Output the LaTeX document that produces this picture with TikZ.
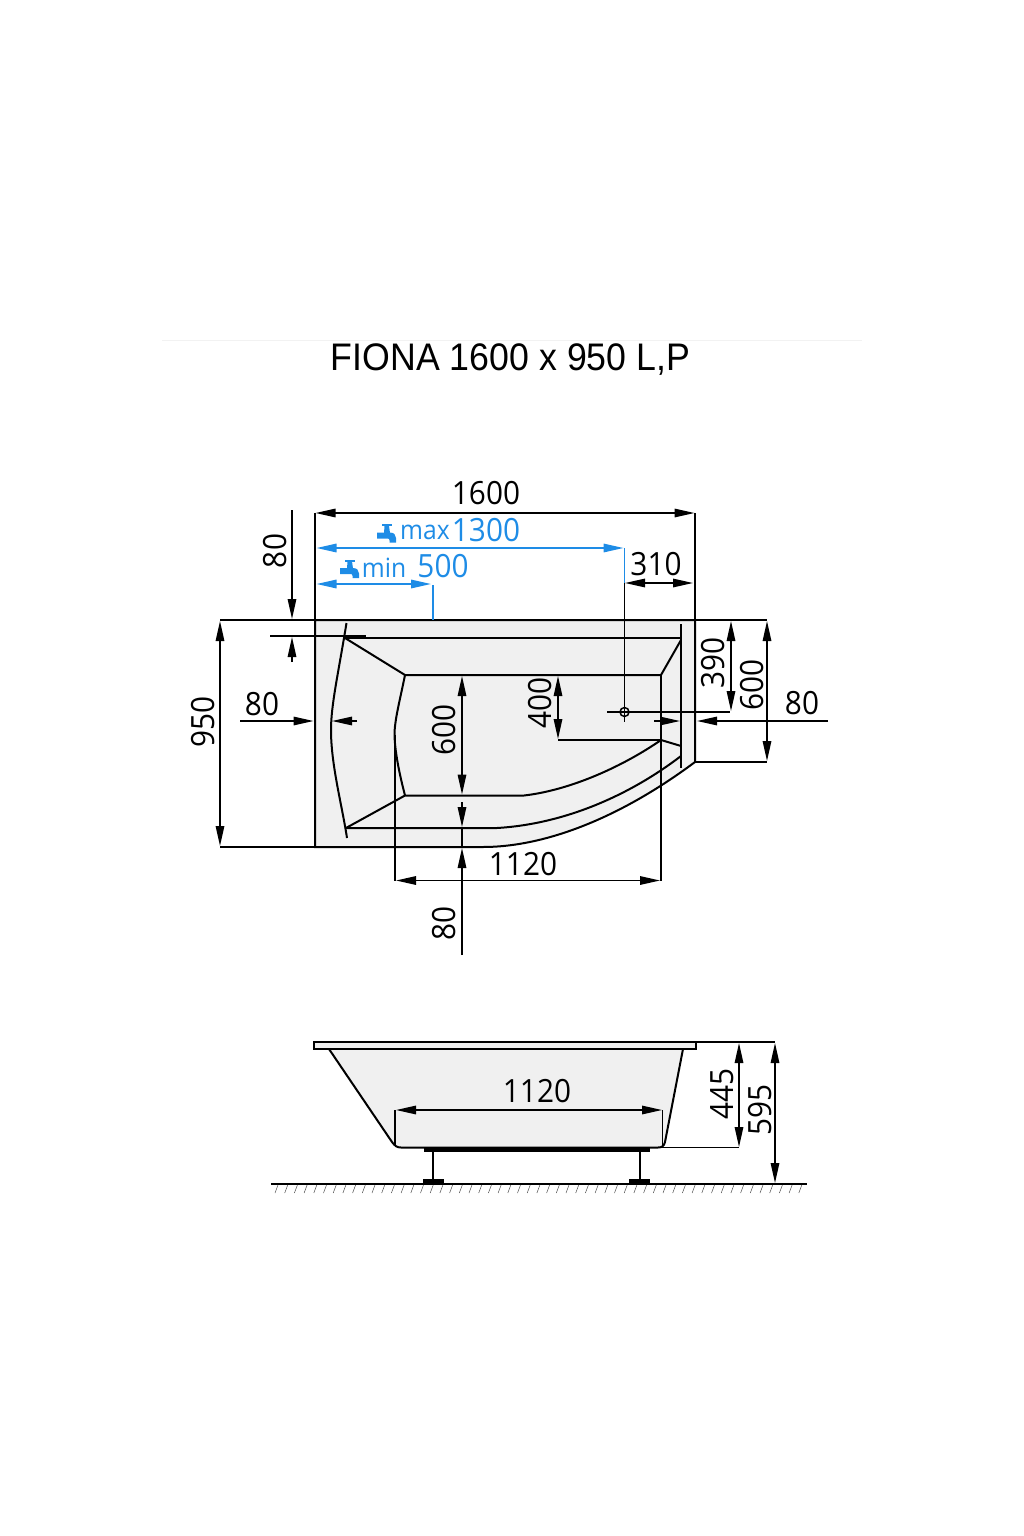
\documentclass[tikz,border=0pt]{standalone}
\usepackage{fontspec}
\setmainfont{Open Sans}
\newfontfamily\dimfont[FakeStretch=0.93]{Open Sans}
\newfontfamily\titlefont[FakeStretch=0.93]{Liberation Sans}
\usetikzlibrary{arrows.meta, calc}
\definecolor{tubgray}{HTML}{F0F0F0}
\definecolor{tapblue}{HTML}{1E8CE6}
\begin{document}
\begin{tikzpicture}[x=1pt,y=-1pt]
      \tikzset{outline/.style={line width=2pt, black},
        thinline/.style={line width=1.5pt, black},
        dimline/.style={line width=1.5pt, black,
          arrows={Triangle[length=20pt,width=8.5pt]-Triangle[length=20pt,width=8.5pt]}},
        dimto/.style={line width=1.5pt, black,
          arrows={-Triangle[length=20pt,width=8.5pt]}},
        tapline/.style={line width=1.6pt, tapblue,
          arrows={Triangle[length=20pt,width=8.5pt]-Triangle[length=20pt,width=8.5pt]}},
        dimlabel/.style={inner sep=0pt, font=\dimfont\fontsize{32}{38}\selectfont},
        taplabel/.style={inner sep=0pt, text=tapblue, font=\dimfont\fontsize{32}{38}\selectfont},
        tapword/.style={inner sep=0pt, text=tapblue, font=\dimfont\fontsize{26.5}{32}\selectfont},
        tap/.pic={
          \fill [tapblue] (5,0) rectangle (14.5,2);
          \fill [tapblue] (7.5,2) -- (12,2) -- (13,9) -- (7,9) -- cycle;
          \fill [tapblue] (0,8.5) -- (13,8.5) .. controls (17,8.5) and (19,11) .. (19,14)
            -- (19,18.5) -- (12.5,18.5) -- (12.5,16.5) .. controls (12.5,15) and (12,14.5) .. (10.5,14.5)
            -- (0,14.5) -- cycle;
        }
      }
      \useasboundingbox (0,0) rectangle (1024,1536);

      % title
      \draw [line width=1.5pt, black!5] (162,340.5)--(862,340.5);
      \node [inner sep=0pt, font=\titlefont\fontsize{38.4}{44}\selectfont] (title) at (510.5,360) {FIONA 1600 x 950 L,P};

      % plan view
      \coordinate (NW) at (315,620);
      \coordinate (NE) at (695,620);
      \coordinate (SE) at (695,762);
      \coordinate (SW) at (315,847);
      \fill [tubgray] (NW)--(NE)--(SE) .. controls (620,818) and (545,847) .. (483,847)--(SW)--cycle;
      \draw [outline] (NW)--(NE)--(SE) .. controls (620,818) and (545,847) .. (483,847)--(SW)--cycle;

      % rim
      \draw [outline] (346.5,623) .. controls (338,675) and (331,705) .. (331,730) .. controls (331,765) and (342,805) .. (347,838);
      \draw [outline] (345,638)--(681,638);
      \draw [outline] (681,624)--(681,768);
      \draw [outline] (346,828)--(497,828) .. controls (565,824) and (630,795) .. (681,756);

      % basin
      \draw [outline] (345,638)--(405,675)--(661,675)--(681,640);
      \draw [outline] (405,675) .. controls (400,700) and (394.5,720) .. (394.5,735) .. controls (395,755) and (401,780) .. (405,795.5);
      \draw [outline] (346,828)--(405,795.5)--(524,795.5) .. controls (572,790) and (625,765) .. (661,740)--(681,746);

      % extension lines
      \draw [thinline] (315,513)--(SW);
      \draw [thinline] (695,513)--(NE);
      \draw [thinline] (220,620)--(NW);
      \draw [thinline] (220,847)--(SW);
      \draw [thinline] (NE)--(767,620);
      \draw [thinline] (SE)--(767,762);
      \draw [thinline] (270,636)--(366,636);
      \draw [thinline] (395,735)--(395,881);
      \draw [thinline] (661,675)--(661,881);
      \draw [thinline] (558,740)--(661,740);
      \draw [thinline] (624.5,583)--(624.5,722);
      \draw [thinline] (607,712)--(730,712);
      \draw [thinline] (624.5,712) circle (4.5);

      % dimensions
      \draw [dimline] (315.5,513)--(694.5,513);
      \node [dimlabel] (d1600) at (486,493) {1600};
      \draw [dimline] (625,583)--(693,583);
      \node [dimlabel] (d310) at (656,564) {310};
      \draw [dimto] (292,510)--(292,619);
      \draw [dimto] (292,662)--(292,637);
      \node [dimlabel, rotate=90] (d80t) at (275,551) {80};
      \draw [dimline] (220,621)--(220,846);
      \node [dimlabel, rotate=90] (d950) at (203,722) {950};
      \draw [dimto] (240,721)--(313.5,721);
      \draw [dimto] (357,721)--(332,721);
      \node [dimlabel] (d80l) at (262,704) {80};
      \draw [dimline] (462,676)--(462,794.5);
      \node [dimlabel, rotate=90] (d600i) at (444,730) {600};
      \draw [dimto] (462,955)--(462,848);
      \draw [dimto] (462,802)--(462,827);
      \draw [thinline] (462,827)--(462,848);
      \node [dimlabel, rotate=90] (d80b) at (444,923) {80};
      \draw [dimline] (396,880.5)--(660,880.5);
      \node [dimlabel] (d1120p) at (523,864) {1120};
      \draw [dimline] (558,676)--(558,739);
      \node [dimlabel, rotate=90] (d400) at (540,703) {400};
      \draw [dimline] (731,621)--(731,711);
      \node [dimlabel, rotate=90] (d390) at (713,663) {390};
      \draw [dimline] (767,621)--(767,761);
      \node [dimlabel, rotate=90] (d600r) at (752,685) {600};
      \draw [dimto] (654,721)--(680,721);
      \draw [dimto] (828,721)--(697,721);
      \node [dimlabel] (d80r) at (802,703) {80};

      % tap positions
      \draw [tapline] (316.5,548)--(623.5,548);
      \draw [line width=1.6pt, tapblue] (624.5,548)--(624.5,583);
      \draw [tapline] (316.5,584)--(431,584);
      \draw [line width=1.6pt, tapblue] (433,585)--(433,620);
      \pic at (377,524) {tap};
      \pic at (340,559.5) {tap};
      \node [tapword] (wmax) at (425,532) {max};
      \node [taplabel] (d1300) at (486,530) {1300};
      \node [tapword] (wmin) at (384,568) {min};
      \node [taplabel] (d500) at (443,566) {500};

      % side view
      \fill [tubgray] (329,1049)--(392,1142) .. controls (395,1146) and (397,1147.5) .. (401,1147.5)--(658,1147.5) .. controls (662,1147.5) and (664,1146) .. (665,1142)--(683,1049)--cycle;
      \draw [outline] (329,1049)--(392,1142) .. controls (395,1146) and (397,1147.5) .. (401,1147.5)--(658,1147.5) .. controls (662,1147.5) and (664,1146) .. (665,1142)--(683,1049);
      \draw [outline, fill=tubgray] (314,1042) rectangle (696,1049);
      \fill [black] (424,1147) rectangle (650,1151.5);
      \draw [outline] (433,1151)--(433,1180);
      \draw [outline] (639.5,1151)--(639.5,1180);
      \fill [black] (423,1179) rectangle (444,1184);
      \fill [black] (629,1179) rectangle (650,1184);

      % floor
      \draw [outline] (271,1184)--(807,1184);
      \foreach \i in {0,...,54} {
        \draw [line width=0.5pt, black!70] ({275+9.7*\i},1193)--({278+9.7*\i},1185);
      }

      % side view dimensions
      \draw [thinline] (395,1110)--(395,1146);
      \draw [thinline] (662.5,1110)--(662.5,1146);
      \draw [dimline] (396,1110)--(662,1110);
      \node [dimlabel] (d1120s) at (537,1091) {1120};
      \draw [thinline] (696,1042)--(775,1042);
      \draw [thinline] (658,1147.5)--(739,1147.5);
      \draw [dimline] (739,1043)--(739,1147);
      \node [dimlabel, rotate=90] (d445) at (722,1094) {445};
      \draw [dimline] (775,1043)--(775,1183);
      \node [dimlabel, rotate=90] (d595) at (760,1110) {595};
\end{tikzpicture}
\end{document}
